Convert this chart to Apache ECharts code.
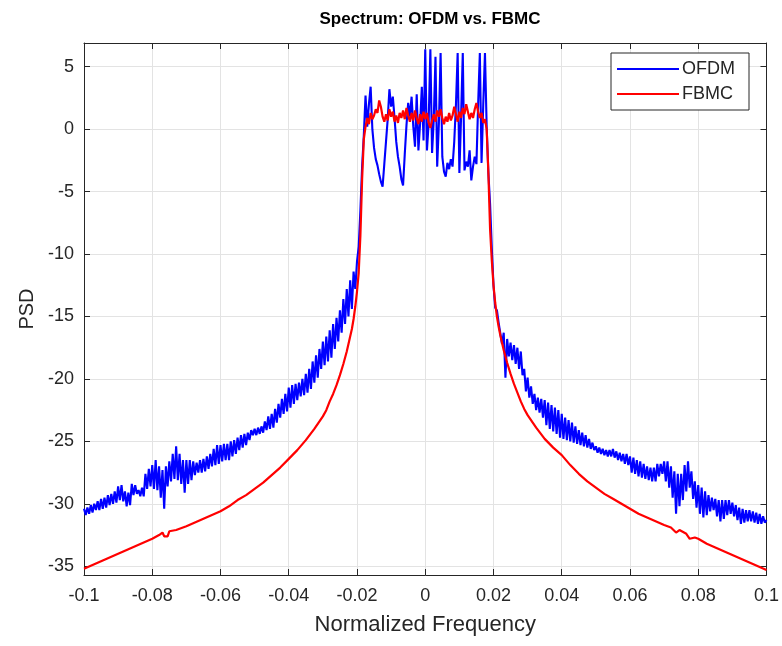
<!DOCTYPE html>
<html>
<head>
<meta charset="utf-8">
<script src="https://cdn.jsdelivr.net/npm/echarts@6/dist/echarts.min.js"></script>
<style>
html,body{margin:0;padding:0;background:#fff;}
#chart{width:782px;height:646px;}
</style>
</head>
<body>
<div id="chart"></div>
<script>
// ---------------- DATA ----------------
const titleText = 'Spectrum: OFDM vs. FBMC';
const xAxisName = 'Normalized Frequency';
const yAxisName = 'PSD';
const seriesNames = ['OFDM', 'FBMC'];

// OFDM sampled on a uniform grid: -0.1 .. 0.1, step 0.0005 (401 samples)
const ofdmFreqStart = -0.1;
const ofdmFreqStep = 0.0005;
// -0.1000 .. -0.0205
const psdOFDMLeft = [
  -30.4,-30.9, -30.3,-30.8, -30.1,-30.7, -30.0,-30.5, -29.8,-30.5, -29.6,-30.4, -29.5,-30.3, -29.3,-30.1, -29.2,-30.0, -29.0,-29.9,
  -28.6,-29.7, -28.5,-29.8, -29.0,-30.2, -29.1,-30.1, -28.4,-29.3, -28.5,-29.2, -28.9,-29.4, -28.7,-29.4, -27.6,-28.8, -27.2,-28.6,
  -26.9,-28.8, -26.5,-28.9, -27.0,-29.5, -27.3,-30.4, -27.0,-28.6, -26.6,-28.2, -26.0,-28.0, -25.4,-28.1, -26.0,-28.4, -26.5,-29.1,
  -26.5,-28.4, -26.5,-28.1, -26.6,-27.7, -26.7,-27.5, -26.5,-27.5, -26.4,-27.4, -26.2,-27.2, -26.0,-27.0, -25.6,-26.9, -25.3,-26.8,
  -25.3,-26.6, -25.2,-26.5, -25.2,-26.5, -25.0,-26.2, -24.9,-26.0, -24.7,-25.7, -24.5,-25.5, -24.4,-25.3, -24.3,-24.9, -24.1,-24.5,
  -24.0,-24.5, -23.9,-24.4, -23.8,-24.3, -23.4,-24.1, -23.0,-24.0, -22.8,-23.9, -22.4,-23.5, -22.0,-23.1, -21.6,-22.8, -21.2,-22.6,
  -20.7,-22.3, -20.5,-22.0, -20.4,-21.7, -20.3,-21.4, -20.0,-21.3, -19.6,-21.1, -19.2,-20.8, -18.6,-20.3, -18.1,-19.9, -17.6,-19.2,
  -17.0,-18.9, -16.6,-18.6, -16.1,-18.3, -15.6,-17.6, -15.1,-17.0, -14.5,-16.3, -13.6,-15.6, -12.8,-15.0, -12.1,-14.4, -11.4,-12.8
];
// -0.0200 .. 0.0200
const psdOFDMCenter = [
  -10.6, -9.4, -6.5, -3.0, -0.5, 2.7, 0.2, 2.0, 3.4, 0.0,
  -1.5, -2.4, -2.9, -3.6, -4.2, -4.6, -2.8, -1.0, 0.8, 3.2,
  1.8, 2.6, 0.9, -1.0, -2.2, -3.0, -4.0, -4.5, -2.0, 0.3,
  2.1, 1.0, 2.6, 0.2, -1.4, 2.8, -1.7, 0.5, 3.4, -0.9,
  6.4, -1.7, 0.5, 6.4, -1.9, 0.8, 5.8, -3.0, 0.5, 6.1,
  -2.2, -3.4, -3.8, -2.7, -3.2, -2.4, -3.0, -1.0, 2.0, 6.1,
  -3.5, 1.0, 6.1, -3.3, -2.6, -3.0, -1.7, -4.1, -3.0, -2.2,
  -2.8, 2.0, 6.1, -2.7, 2.0, 6.1, 0.2, -3.5, -6.0, -9.5,
  -12.5
];
// 0.0205 .. 0.1000
const psdOFDMRight = [
  -14.3,
  -14.5,-15.5, -15.6,-17.2, -16.3,-19.9, -16.8,-18.2, -17.1,-18.5, -17.3,-18.8, -17.5,-19.2, -17.8,-19.7, -19.2,-21.0, -19.9,-21.5,
  -20.6,-22.0, -21.2,-22.5, -21.5,-22.7, -21.6,-23.1, -21.7,-23.7, -21.9,-24.0, -22.1,-24.2, -22.3,-24.4, -22.5,-24.7, -22.8,-24.8,
  -23.1,-24.9, -23.3,-25.0, -23.5,-25.1, -23.8,-25.2, -24.1,-25.3, -24.3,-25.4, -24.5,-25.5, -24.8,-25.6, -25.1,-25.7, -25.4,-25.9,
  -25.5,-26.0, -25.6,-26.1, -25.7,-26.2, -25.7,-26.2, -25.6,-26.3, -25.8,-26.5, -25.9,-26.6, -26.0,-26.8, -26.0,-26.9, -26.2,-27.5,
  -26.3,-27.6, -26.5,-27.8, -26.6,-27.9, -26.8,-28.0, -27.0,-28.1, -27.1,-28.2, -27.1,-28.2, -26.8,-27.8, -26.8,-27.6, -26.6,-28.2,
  -26.6,-28.7, -27.0,-29.5, -27.4,-30.8, -27.6,-30.2, -27.6,-29.7, -26.9,-29.0, -26.6,-28.7, -27.4,-29.6, -28.2,-30.3, -28.5,-30.8,
  -28.7,-31.1, -29.0,-30.9, -29.3,-30.6, -29.5,-30.5, -29.6,-31.0, -29.7,-31.4, -29.7,-31.2, -29.7,-30.9, -29.7,-30.8, -29.9,-31.0,
  -30.1,-31.3, -30.3,-31.6, -30.4,-31.5, -30.5,-31.4, -30.5,-31.4, -30.6,-31.5, -30.7,-31.6, -30.8,-31.6, -31.0,-31.5,
  -31.3
];

// FBMC skirts (explicit frequencies) and in-band samples
const freqFBMCLeft = [-0.100,-0.0975,-0.095,-0.0925,-0.090,-0.0875,-0.085,-0.0825,-0.080,-0.078,-0.077,-0.0765,-0.0755,-0.075,-0.073,-0.070,-0.0675,-0.065,-0.0625,-0.060,-0.0575,-0.055,-0.0525,-0.050,-0.0475,-0.045,-0.0425,-0.040,-0.0375,-0.035,-0.0325,-0.030,-0.029,-0.028,-0.027,-0.026,-0.025,-0.024,-0.023,-0.022,-0.0215,-0.021,-0.0205,-0.020,-0.0195,-0.019,-0.0185];
const psdFBMCLeft  = [-35.2,-34.9,-34.6,-34.3,-34.0,-33.7,-33.4,-33.1,-32.8,-32.5,-32.3,-32.6,-32.6,-32.2,-32.1,-31.8,-31.5,-31.2,-30.9,-30.6,-30.2,-29.7,-29.3,-28.8,-28.3,-27.7,-27.1,-26.4,-25.7,-24.9,-24.0,-23.0,-22.5,-21.8,-21.2,-20.5,-19.7,-18.8,-17.8,-16.6,-16.0,-15.2,-14.2,-13.0,-11.5,-8.5,-4.0];
const fbmcBandStart = -0.018;
const fbmcBandStep = 0.0005;
const psdFBMCBand = [
  -0.8, 0.2, 0.9, 0.4, 1.3, 0.8, 1.1, 1.6, 1.3, 2.3,
  1.8, 1.0, 0.6, 1.2, 0.7, 1.6, 1.0, 1.4, 0.6, 1.1,
  0.5, 1.3, 0.9, 1.5, 0.8, 1.7, 1.1, 0.6, 1.3, 0.7,
  1.5, 0.9, 0.4, 1.2, 0.6, 1.4, 0.8, 1.3, 0.5, 0.1,
  0.7, 1.2, 0.6, 1.5, 1.0, 1.6, 0.9, 0.4, 1.0, 0.6,
  1.3, 0.7, 1.1, 1.8, 1.2, 0.6, 1.4, 0.9, 1.7, 1.2,
  2.0, 1.4, 0.8, 1.3, 0.9, 1.6, 2.1, 1.4, 0.9, 1.3,
  0.5, 0.8, 0.0
];
const freqFBMCRight = [0.0185,0.019,0.0195,0.020,0.0205,0.021,0.0215,0.022,0.023,0.024,0.025,0.026,0.027,0.028,0.029,0.030,0.0325,0.035,0.0375,0.040,0.0425,0.045,0.0475,0.050,0.0525,0.055,0.0575,0.060,0.0625,0.065,0.0675,0.070,0.072,0.0735,0.0745,0.0765,0.0775,0.079,0.080,0.0825,0.085,0.0875,0.090,0.0925,0.095,0.0975,0.100];
const psdFBMCRight  = [-3.5,-8.0,-10.5,-12.5,-13.9,-15.0,-15.8,-16.5,-17.7,-18.7,-19.6,-20.4,-21.1,-21.8,-22.4,-22.9,-23.9,-24.8,-25.5,-26.1,-26.9,-27.6,-28.2,-28.7,-29.2,-29.6,-30.0,-30.4,-30.8,-31.1,-31.4,-31.7,-31.9,-32.3,-32.1,-32.4,-32.8,-32.7,-32.8,-33.2,-33.5,-33.8,-34.1,-34.4,-34.7,-35.0,-35.3];

// axis ranges / ticks
const xMin = -0.1, xMax = 0.1, xInterval = 0.02;
const yMin = -35.7, yMax = 6.9;

// ---------------- BUILD ----------------
const psdOFDM = psdOFDMLeft.concat(psdOFDMCenter, psdOFDMRight);
const ofdmData = psdOFDM.map((v, i) => [+(ofdmFreqStart + i * ofdmFreqStep).toFixed(4), v]);
const fbmcData = []
  .concat(freqFBMCLeft.map((f, i) => [f, psdFBMCLeft[i]]))
  .concat(psdFBMCBand.map((v, i) => [+(fbmcBandStart + i * fbmcBandStep).toFixed(4), v]))
  .concat(freqFBMCRight.map((f, i) => [f, psdFBMCRight[i]]));

const FONT = '"Liberation Sans", Arial, Helvetica, sans-serif';
const TXT = '#262626';
const GRIDC = '#e3e3e3';

const chart = echarts.init(document.getElementById('chart'), null, {renderer: 'canvas'});

const yLabelFmt = v => (Math.abs(v % 5) < 1e-6 ? String(Math.round(v)) : '');
const xLabelFmt = v => String(Math.round(v * 100) / 100);

chart.setOption({
  animation: false,
  backgroundColor: '#fff',
  title: {
    text: titleText,
    left: 425, textAlign: 'center', top: 6,
    textStyle: {fontFamily: FONT, fontSize: 17, fontWeight: 'bold', color: '#000'}
  },
  legend: {
    data: seriesNames,
    orient: 'vertical',
    right: 33, top: 53,
    padding: [7, 14, 7, 6],
    itemGap: 7,
    itemWidth: 62, itemHeight: 2,
    icon: 'rect',
    borderColor: '#262626', borderWidth: 1,
    backgroundColor: '#fff',
    textStyle: {fontFamily: FONT, fontSize: 18, color: TXT, padding: [0, 0, 0, -2]}
  },
  grid: {left: 84, right: 15, top: 43, bottom: 71, containLabel: false},
  xAxis: [{
    type: 'value', min: xMin, max: xMax, interval: xInterval,
    name: xAxisName, nameLocation: 'middle', nameGap: 39,
    nameTextStyle: {fontFamily: FONT, fontSize: 22, color: TXT},
    axisLine: {show: true, onZero: false, lineStyle: {color: TXT, width: 1}},
    axisTick: {show: true, inside: true, length: 6, lineStyle: {color: TXT}},
    axisLabel: {fontFamily: FONT, fontSize: 18, color: TXT, margin: 12, formatter: xLabelFmt},
    splitLine: {show: true, lineStyle: {color: GRIDC, width: 1}}
  }, {
    type: 'value', position: 'top', min: xMin, max: xMax, interval: xInterval,
    axisLine: {show: true, onZero: false, lineStyle: {color: TXT, width: 1}},
    axisTick: {show: true, inside: true, length: 6, lineStyle: {color: TXT}},
    axisLabel: {show: false}, splitLine: {show: false}
  }],
  yAxis: [{
    type: 'value', min: yMin, max: yMax, splitNumber: 8,
    name: yAxisName, nameLocation: 'middle', nameGap: 44, nameRotate: 90,
    nameTextStyle: {fontFamily: FONT, fontSize: 20, color: TXT},
    axisLine: {show: true, onZero: false, lineStyle: {color: TXT, width: 1}},
    axisTick: {show: true, inside: true, length: 6, lineStyle: {color: TXT}},
    axisLabel: {fontFamily: FONT, fontSize: 18, color: TXT, margin: 10, formatter: yLabelFmt, showMinLabel: false, showMaxLabel: false},
    splitLine: {show: true, lineStyle: {color: GRIDC, width: 1}}
  }, {
    type: 'value', position: 'right', min: yMin, max: yMax, splitNumber: 8,
    axisLine: {show: true, onZero: false, lineStyle: {color: TXT, width: 1}},
    axisTick: {show: true, inside: true, length: 6, lineStyle: {color: TXT}},
    axisLabel: {show: false}, splitLine: {show: false}
  }],
  series: [{
    name: seriesNames[0], type: 'line', data: ofdmData,
    xAxisIndex: 0, yAxisIndex: 0,
    showSymbol: false, symbol: 'none',
    lineStyle: {color: '#0000ff', width: 2.1}, itemStyle: {color: '#0000ff'},
    z: 2
  }, {
    name: seriesNames[1], type: 'line', data: fbmcData,
    xAxisIndex: 0, yAxisIndex: 0,
    showSymbol: false, symbol: 'none',
    lineStyle: {color: '#ff0000', width: 2.2}, itemStyle: {color: '#ff0000'},
    z: 3
  }]
});
</script>
</body>
</html>
